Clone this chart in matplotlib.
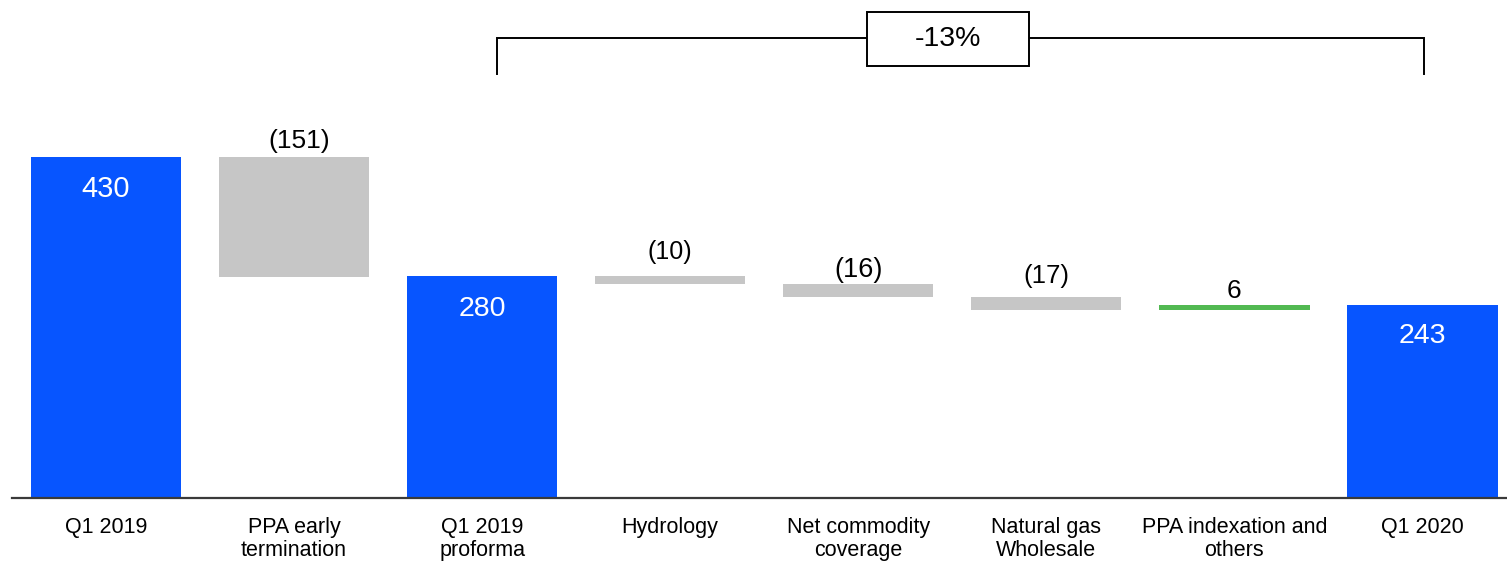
import matplotlib
matplotlib.use("Agg")
import matplotlib.pyplot as plt
from matplotlib.patches import Rectangle

plt.rcParams["font.family"] = ["Liberation Sans", "DejaVu Sans"]

# Waterfall data
categories = ["Q1 2019", "PPA early\ntermination", "Q1 2019\nproforma", "Hydrology",
              "Net commodity\ncoverage", "Natural gas\nWholesale",
              "PPA indexation and\nothers", "Q1 2020"]
values = [430, -151, 280, -10, -16, -17, 6, 243]
kinds = ["total", "delta", "total", "delta", "delta", "delta", "delta", "total"]
value_labels = ["430", "(151)", "280", "(10)", "(16)", "(17)", "6", "243"]
change_label = "-13%"

# Styling
BLUE = "#0755FF"
GREY = "#C6C6C6"
GREEN = "#52B952"
label_offsets_pt = [-29, 6.7, -29, 12.2, 5.3, 9.6, 5.5, -27.5]
label_sizes = [21, 19, 20.5, 18, 19.5, 18.5, 19, 20.5]
label_shift_pt = [0, 4, 0, 0, 0, 0, 0, 0]

fig = plt.figure(figsize=(15.07, 5.62), dpi=100)
ax = fig.add_axes([12 / 1507, 64 / 562, 1495 / 1507, 498 / 562])

bottoms, heights, colors, tops = [], [], [], []
running = 0
for v, k in zip(values, kinds):
    if k == "total":
        bottoms.append(0)
        heights.append(v)
        colors.append(BLUE)
        running = v
    else:
        bottoms.append(running + min(0, v))
        heights.append(abs(v))
        colors.append(GREEN if v > 0 else GREY)
        running += v
    tops.append(bottoms[-1] + heights[-1])

x = list(range(len(values)))
ax.bar(x, heights, bottom=bottoms, width=0.8, color=colors, zorder=2)

for i, (lab, top, k) in enumerate(zip(value_labels, tops, kinds)):
    ax.annotate(lab, (x[i], top), xytext=(label_shift_pt[i], label_offsets_pt[i]),
                textcoords="offset points", ha="center", va="baseline",
                fontsize=label_sizes[i],
                color="white" if k == "total" else "black", zorder=3)

# Category labels under the baseline
for i, cat in enumerate(categories):
    ax.annotate(cat, (x[i], 0), xytext=(0, -13.7), textcoords="offset points",
                ha="center", va="top", fontsize=15.5, linespacing=1.1,
                color="black", annotation_clip=False)

ax.set_xlim(-0.5, 7.45)
ax.set_ylim(0, 628)
for s in ["top", "right", "left"]:
    ax.spines[s].set_visible(False)
ax.spines["bottom"].set_color("#3a3a3a")
ax.spines["bottom"].set_linewidth(1.6)
ax.set_xticks([])
ax.set_yticks([])

# Bracket showing the change from proforma to Q1 2020
bx0, bx1 = 2.08, 7.01
by_top, by_bot = 580.5, 535
ax.plot([bx0, bx0, bx1, bx1], [by_bot, by_top, by_top, by_bot],
        color="black", lw=1.4, solid_joinstyle="miter", zorder=1,
        clip_on=False)
box = Rectangle((4.045, 545), 4.908 - 4.045, 612.5 - 545,
                facecolor="white", edgecolor="black", lw=1.4, zorder=4,
                clip_on=False)
ax.add_patch(box)
ax.text(4.477, 578.8, change_label, ha="center", va="center",
        fontsize=20.5, zorder=5)

fig.savefig("out.png", dpi=100)
